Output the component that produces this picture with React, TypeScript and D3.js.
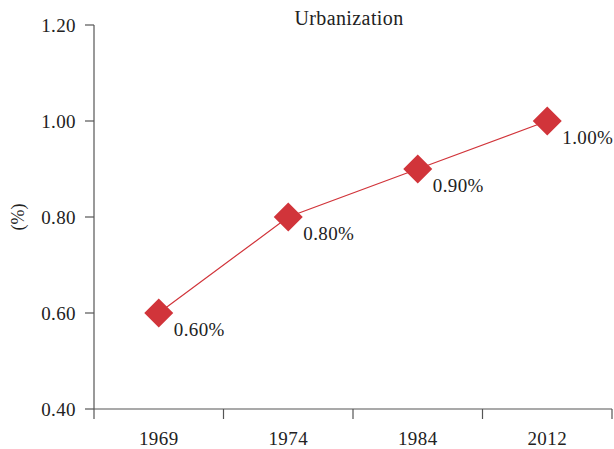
import React from "react";
import * as d3 from "d3";

const categories = ["1969", "1974", "1984", "2012"];
const values = [0.6, 0.8, 0.9, 1.0];
const yTicks = [0.4, 0.6, 0.8, 1.0, 1.2];
const title = "Urbanization";
const yLabel = "(%)";

const W = 614;
const H = 449;
const left = 94;
const right = 612;
const top = 25;
const bottom = 409;
const red = "#d1343a";
const font = "'Liberation Serif', 'DejaVu Serif', serif";

export default function App() {
  const x = d3.scaleBand<string>().domain(categories).range([left, right]);
  const y = d3.scaleLinear().domain([0.4, 1.2]).range([bottom, top]);
  const line = d3
    .line<number>()
    .x((_, i) => (x(categories[i]) as number) + x.bandwidth() / 2)
    .y((d) => y(d));
  const boundaries = [...categories.map((c) => x(c) as number), right];
  const r = 14.5;
  return (
    <svg width={W} height={H} style={{ position: "absolute", left: 0, top: 0 }} fontFamily={font}>
      <rect width={W} height={H} fill="#fff" />
      <text x={349} y={25} textAnchor="middle" fontSize={20} letterSpacing={0.4} fill="#222">{title}</text>
      <text transform={`translate(24,${y(0.8)}) rotate(-90)`} textAnchor="middle" fontSize={18} fill="#222">{yLabel}</text>
      {/* y axis */}
      <line x1={left} x2={left} y1={top} y2={bottom} stroke="#555" strokeWidth={1.2} />
      {yTicks.map((t) => (
        <g key={t}>
          <line x1={left - 9} x2={left} y1={y(t)} y2={y(t)} stroke="#555" strokeWidth={1.2} />
          <text x={left - 18} y={y(t)} dy="0.35em" textAnchor="end" fontSize={19} letterSpacing={0.4} fill="#222">{t.toFixed(2)}</text>
        </g>
      ))}
      {/* x axis */}
      <line x1={left} x2={right} y1={bottom} y2={bottom} stroke="#555" strokeWidth={1.2} />
      {boundaries.map((b, i) => (
        <line key={i} x1={b} x2={b} y1={bottom} y2={bottom + 10} stroke="#555" strokeWidth={1.2} />
      ))}
      {categories.map((c) => (
        <text key={c} x={(x(c) as number) + x.bandwidth() / 2} y={445} textAnchor="middle" fontSize={19} letterSpacing={0.4} fill="#222">{c}</text>
      ))}
      <path d={line(values) || ""} fill="none" stroke={red} strokeWidth={1.2} />
      {values.map((v, i) => {
        const cx = (x(categories[i]) as number) + x.bandwidth() / 2;
        const cy = y(v);
        return (
          <g key={i}>
            <path d={`M${cx},${cy - r}L${cx + r},${cy}L${cx},${cy + r}L${cx - r},${cy}Z`} fill={red} />
            <text x={cx + 15} y={cy + 23} fontSize={19} letterSpacing={0.4} fill="#222">{v.toFixed(2) + "%"}</text>
          </g>
        );
      })}
    </svg>
  );
}
